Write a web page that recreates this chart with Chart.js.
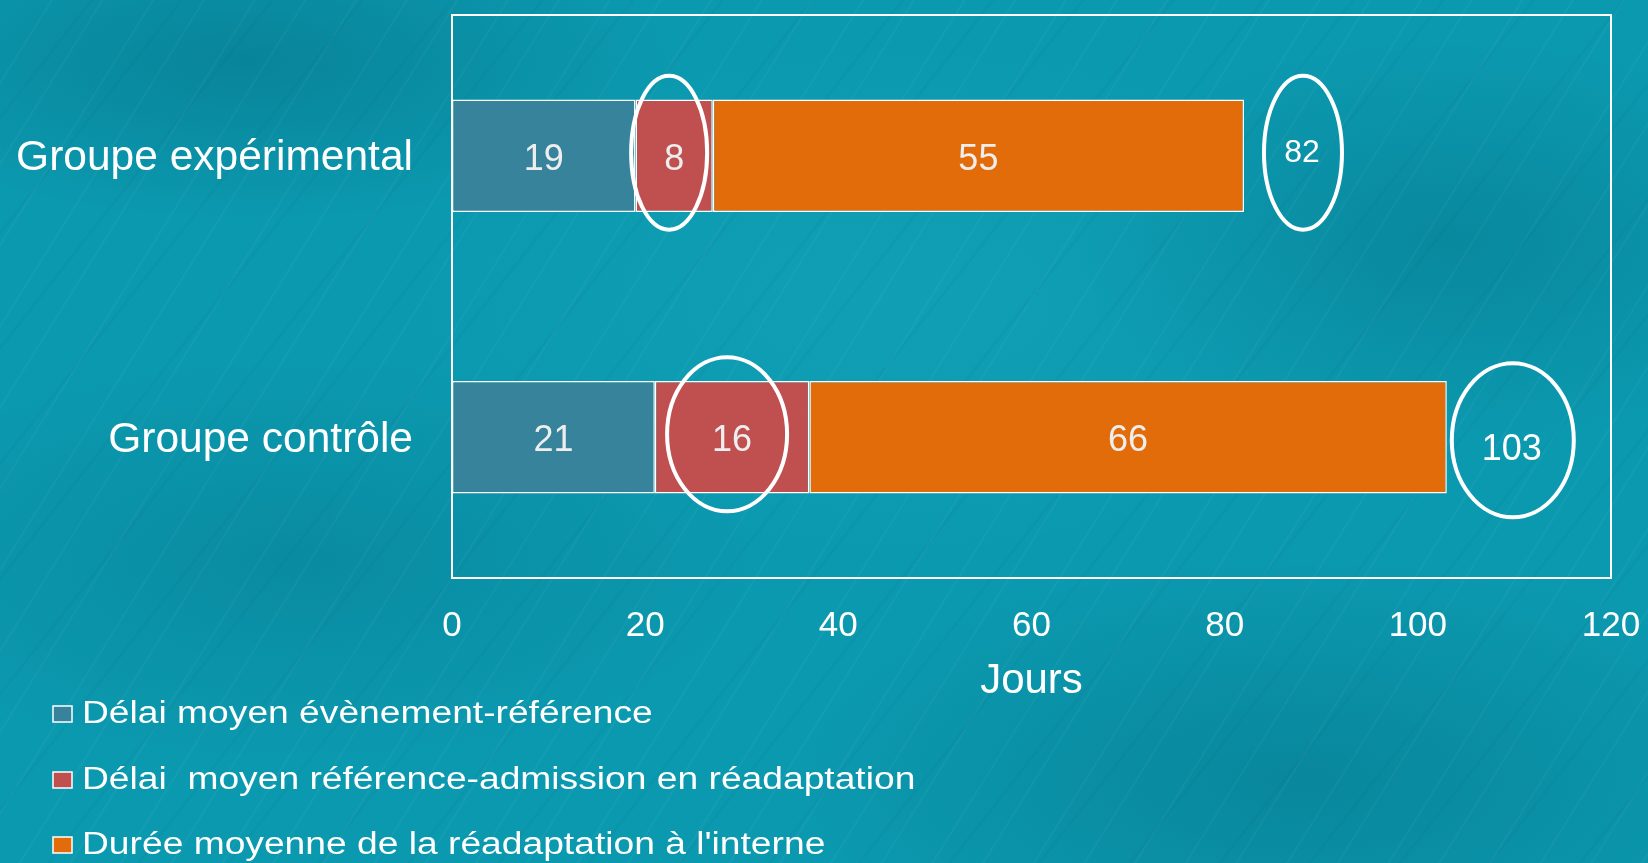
<!DOCTYPE html>
<html lang="fr">
<head>
<meta charset="utf-8">
<title>Délais et durée de réadaptation</title>
<script src="https://cdn.jsdelivr.net/npm/chart.js@4.4.1/dist/chart.umd.min.js"></script>
<style>
  html, body { margin: 0; padding: 0; }
  body {
    width: 1648px; height: 863px; overflow: hidden;
    background-color: #0b99af;
    background-image:
      repeating-linear-gradient(122deg, rgba(255,255,255,0.03) 0 2px, rgba(255,255,255,0) 2px 43px),
      repeating-linear-gradient(128deg, rgba(0,60,80,0.045) 0 3px, rgba(0,0,0,0) 3px 71px),
      radial-gradient(ellipse 420px 160px at 250px 60px, rgba(0,70,90,0.25), rgba(0,70,90,0) 100%),
      radial-gradient(ellipse 380px 200px at 1450px 240px, rgba(0,70,90,0.2), rgba(0,70,90,0) 100%),
      radial-gradient(ellipse 500px 220px at 1300px 780px, rgba(0,70,90,0.22), rgba(0,70,90,0) 100%),
      radial-gradient(ellipse 460px 200px at 300px 560px, rgba(0,70,90,0.16), rgba(0,70,90,0) 100%),
      radial-gradient(ellipse 500px 260px at 900px 300px, rgba(40,190,210,0.16), rgba(40,190,210,0) 100%);
  }
  #wrap { position: absolute; left: 0; top: 0; width: 1648px; height: 863px; }
</style>
</head>
<body>
<div id="wrap"><canvas id="chart" width="1648" height="863"></canvas></div>
<script>
// Groups compared
const categories = ['Groupe expérimental', 'Groupe contrôle'];

// Series names (legend)
const seriesNames = [
  'Délai moyen évènement-référence',
  'Délai  moyen référence-admission en réadaptation',
  "Durée moyenne de la réadaptation à l'interne"
];

// Mean durations in days, per group
const delaiEvenementReference = [19, 21];
const delaiReferenceAdmission = [8, 16];
const dureeReadaptation = [55, 66];

// Axis ticks (days)
const xTicks = [0, 20, 40, 60, 80, 100, 120];
const axisTitle = 'Jours';

const seriesColors = ['#36839b', '#c0504f', '#e36c0a'];
const FONT = "'Liberation Sans', Arial, sans-serif";

// Totals per group, from the three stacked series
const totals = categories.map((_, i) =>
  delaiEvenementReference[i] + delaiReferenceAdmission[i] + dureeReadaptation[i]);

// Highlight rings: the referral-to-admission segment and the total of each group
const ringHalfWidths = { segment: [38, 60], total: [39, 61] };
const ringHalfHeight = 77;

const plotFrame = {
  id: 'plotFrame',
  afterDraw(chart) {
    const { ctx, chartArea: a } = chart;
    ctx.save();
    ctx.strokeStyle = '#ffffff';
    ctx.lineWidth = 2;
    ctx.strokeRect(a.left, a.top, a.right - a.left, a.bottom - a.top);
    ctx.restore();
  }
};

const barLabels = {
  id: 'barLabels',
  afterDatasetsDraw(chart) {
    const { ctx } = chart;
    const xScale = chart.scales.x;
    ctx.save();
    ctx.textAlign = 'center';
    ctx.textBaseline = 'middle';
    ctx.font = '36px ' + FONT;
    ctx.fillStyle = '#eeeeee';
    chart.data.datasets.forEach((ds, di) => {
      const meta = chart.getDatasetMeta(di);
      meta.data.forEach((bar, i) => {
        const cx = (bar.x + bar.base) / 2;
        ctx.fillText(String(ds.data[i]), cx, bar.y + 4);
      });
    });

    // rings around the referral-to-admission segment
    const redMeta = chart.getDatasetMeta(1);
    ctx.strokeStyle = '#ffffff';
    ctx.lineWidth = 4;
    redMeta.data.forEach((bar, i) => {
      const cx = (bar.x + bar.base) / 2 - 5;
      ctx.beginPath();
      ctx.ellipse(cx, bar.y - 3, ringHalfWidths.segment[i], ringHalfHeight, 0, 0, Math.PI * 2);
      ctx.stroke();
    });

    // totals, ringed, to the right of each bar
    const totalShift = [-3, 13];
    const totalFont = [32, 36];
    redMeta.data.forEach((bar, i) => {
      const cx = xScale.getPixelForValue(totals[i]) + 59 + (i === 1 ? 7 : 0);
      const cy = bar.y + (i === 0 ? -3 : 3);
      ctx.beginPath();
      ctx.ellipse(cx, cy, ringHalfWidths.total[i], ringHalfHeight, 0, 0, Math.PI * 2);
      ctx.stroke();
      ctx.font = totalFont[i] + 'px ' + FONT;
      ctx.fillStyle = '#ffffff';
      ctx.fillText(String(totals[i]), cx - 1, bar.y + totalShift[i]);
    });
    ctx.restore();
  }
};

const sideLegend = {
  id: 'sideLegend',
  afterDraw(chart) {
    const { ctx } = chart;
    const rows = [713, 779, 844];
    ctx.save();
    chart.data.datasets.forEach((ds, i) => {
      const y = rows[i];
      ctx.fillStyle = ds.backgroundColor;
      ctx.fillRect(53, y - 7, 19, 16);
      ctx.strokeStyle = '#ffffff';
      ctx.lineWidth = 1.5;
      ctx.strokeRect(53, y - 7, 19, 16);
      ctx.save();
      ctx.translate(82, y);
      ctx.scale(1.2, 1);
      ctx.font = '31px ' + FONT;
      ctx.fillStyle = '#ffffff';
      ctx.textAlign = 'left';
      ctx.textBaseline = 'middle';
      ctx.fillText(ds.label, 0, 1);
      ctx.restore();
    });
    ctx.restore();
  }
};

const datasets = [delaiEvenementReference, delaiReferenceAdmission, dureeReadaptation]
  .map((values, i) => ({
    label: seriesNames[i],
    data: values,
    backgroundColor: seriesColors[i],
    borderColor: '#ffffff',
    borderWidth: 1.5,
    borderSkipped: false,
    categoryPercentage: 0.8,
    barPercentage: 0.5
  }));

new Chart(document.getElementById('chart'), {
  type: 'bar',
  data: { labels: categories, datasets },
  options: {
    indexAxis: 'y',
    responsive: false,
    animation: false,
    layout: { padding: { left: 0, top: 15, right: 37, bottom: 145 } },
    plugins: {
      legend: { display: false },
      tooltip: { enabled: false }
    },
    scales: {
      x: {
        stacked: true,
        min: xTicks[0],
        max: xTicks[xTicks.length - 1],
        afterBuildTicks(scale) { scale.ticks = xTicks.map(v => ({ value: v })); },
        afterFit(scale) { scale.height = 140; scale.paddingLeft = 0; scale.paddingRight = 0; },
        grid: { display: false, drawTicks: false },
        border: { display: false },
        ticks: {
          color: '#ffffff',
          font: { family: FONT, size: 35 },
          padding: 27,
          maxRotation: 0
        },
        title: {
          display: true,
          text: axisTitle,
          color: '#ffffff',
          font: { family: FONT, size: 42 },
          padding: { top: 0, bottom: 11 }
        }
      },
      y: {
        stacked: true,
        afterFit(scale) { scale.width = 452; scale.paddingTop = 0; scale.paddingBottom = 0; },
        grid: { display: false, drawTicks: false },
        border: { display: false },
        ticks: {
          color: '#ffffff',
          font: { family: FONT, size: 42.5 },
          padding: 39,
          labelOffset: 3
        }
      }
    }
  },
  plugins: [plotFrame, barLabels, sideLegend]
});
</script>
</body>
</html>
